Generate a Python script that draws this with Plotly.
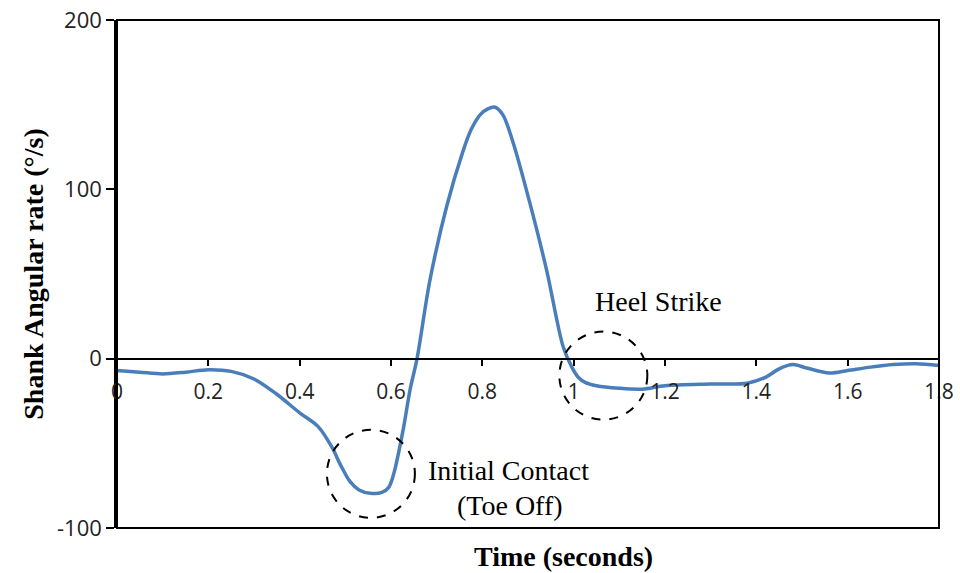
import plotly.graph_objects as go

# Shank angular rate over one gait cycle
time_s = [0, 0.05, 0.1, 0.15, 0.2, 0.25, 0.3, 0.35, 0.4, 0.44, 0.47, 0.49,
          0.51, 0.53, 0.555, 0.58, 0.595, 0.607, 0.617, 0.628, 0.642, 0.657,
          0.685, 0.722, 0.757, 0.775, 0.795, 0.812, 0.828, 0.845, 0.867, 0.904,
          0.941, 0.977, 0.996, 1.01, 1.025, 1.05, 1.1, 1.15, 1.2, 1.3, 1.38,
          1.42, 1.45, 1.48, 1.51, 1.56, 1.6, 1.65, 1.7, 1.75, 1.8]
rate_dps = [-7, -8, -9, -8, -6.5, -7.5, -12, -21, -32, -40, -52, -63,
            -72.5, -77.5, -79.5, -79, -76, -67, -55, -40, -18, 0,
            46, 90, 122, 135, 144, 147.5, 148.5, 144, 128, 92,
            52, 7, -5, -11, -14, -16, -17.5, -18, -16, -15, -14.5,
            -11, -6, -3.5, -5.5, -8.5, -7, -5, -3.5, -3, -4]

x_ticks = [0, 0.2, 0.4, 0.6, 0.8, 1.0, 1.2, 1.4, 1.6, 1.8]
x_tick_labels = ["0", "0.2", "0.4", "0.6", "0.8", "1", "1.2", "1.4", "1.6", "1.8"]
y_ticks = [-100, 0, 100, 200]
y_tick_labels = ["-100", "0", "100", "200"]

# Gait events marked with dashed circles: (time, rate)
toe_off_event = (0.556, -68)
heel_strike_event = (1.065, -10)

SERIF = "Liberation Serif"
SANS = "Open Sans"

fig = go.Figure()
fig.add_trace(go.Scatter(
    x=time_s, y=rate_dps, mode="lines",
    line=dict(color="#4a7ebb", width=3.5, shape="spline", smoothing=0.9),
    showlegend=False, hoverinfo="skip",
))

shapes = [
    # chart frame
    dict(type="rect", xref="paper", yref="paper", x0=0, x1=1, y0=0, y1=1,
         line=dict(color="black", width=2), layer="above"),
]
for cx, cy in (toe_off_event, heel_strike_event):
    shapes.append(dict(
        type="circle", xref="x", yref="y",
        xsizemode="pixel", ysizemode="pixel",
        xanchor=cx, yanchor=cy, x0=-44, x1=44, y0=-44, y1=44,
        line=dict(color="black", width=2, dash="dash"),
    ))

annotations = [
    dict(x=1.185, y=34, xref="x", yref="y", text="Heel Strike", showarrow=False,
         font=dict(family=SERIF, size=28, color="black")),
    dict(x=0.857, y=-66, xref="x", yref="y", text="Initial Contact", showarrow=False,
         font=dict(family=SERIF, size=28, color="black")),
    dict(x=0.86, y=-87, xref="x", yref="y", text="(Toe Off)", showarrow=False,
         font=dict(family=SERIF, size=28, color="black")),
    dict(x=0.5426, y=-0.057, xref="paper", yref="paper", text="Time (seconds)",
         showarrow=False, yanchor="middle",
         font=dict(family=SERIF, size=28, color="black", weight="bold")),
]

fig.update_layout(
    width=960, height=573,
    margin=dict(l=117, r=21, t=20, b=45),
    paper_bgcolor="white", plot_bgcolor="white",
    shapes=shapes, annotations=annotations,
    xaxis=dict(
        range=[0, 1.8], anchor="free", position=1 / 3, automargin=False,
        showgrid=False, zeroline=False,
        showline=True, linecolor="black", linewidth=2,
        ticks="outside", ticklen=6, tickwidth=2, tickcolor="black",
        tickvals=x_ticks, ticktext=x_tick_labels, ticklabelstandoff=8,
        tickfont=dict(family=SANS, size=21, color="#222"),
    ),
    yaxis=dict(
        range=[-100, 200], automargin=False, showgrid=False, zeroline=False,
        showline=True, linecolor="black", linewidth=2.5,
        ticks="outside", ticklen=8, tickwidth=2, tickcolor="black",
        tickvals=y_ticks, ticktext=y_tick_labels,
        tickfont=dict(family=SANS, size=22, color="#222"),
        title=dict(text="Shank Angular rate (°/s)", standoff=6,
                   font=dict(family=SERIF, size=28, color="black", weight="bold")),
    ),
)

fig.write_html("out.html")
